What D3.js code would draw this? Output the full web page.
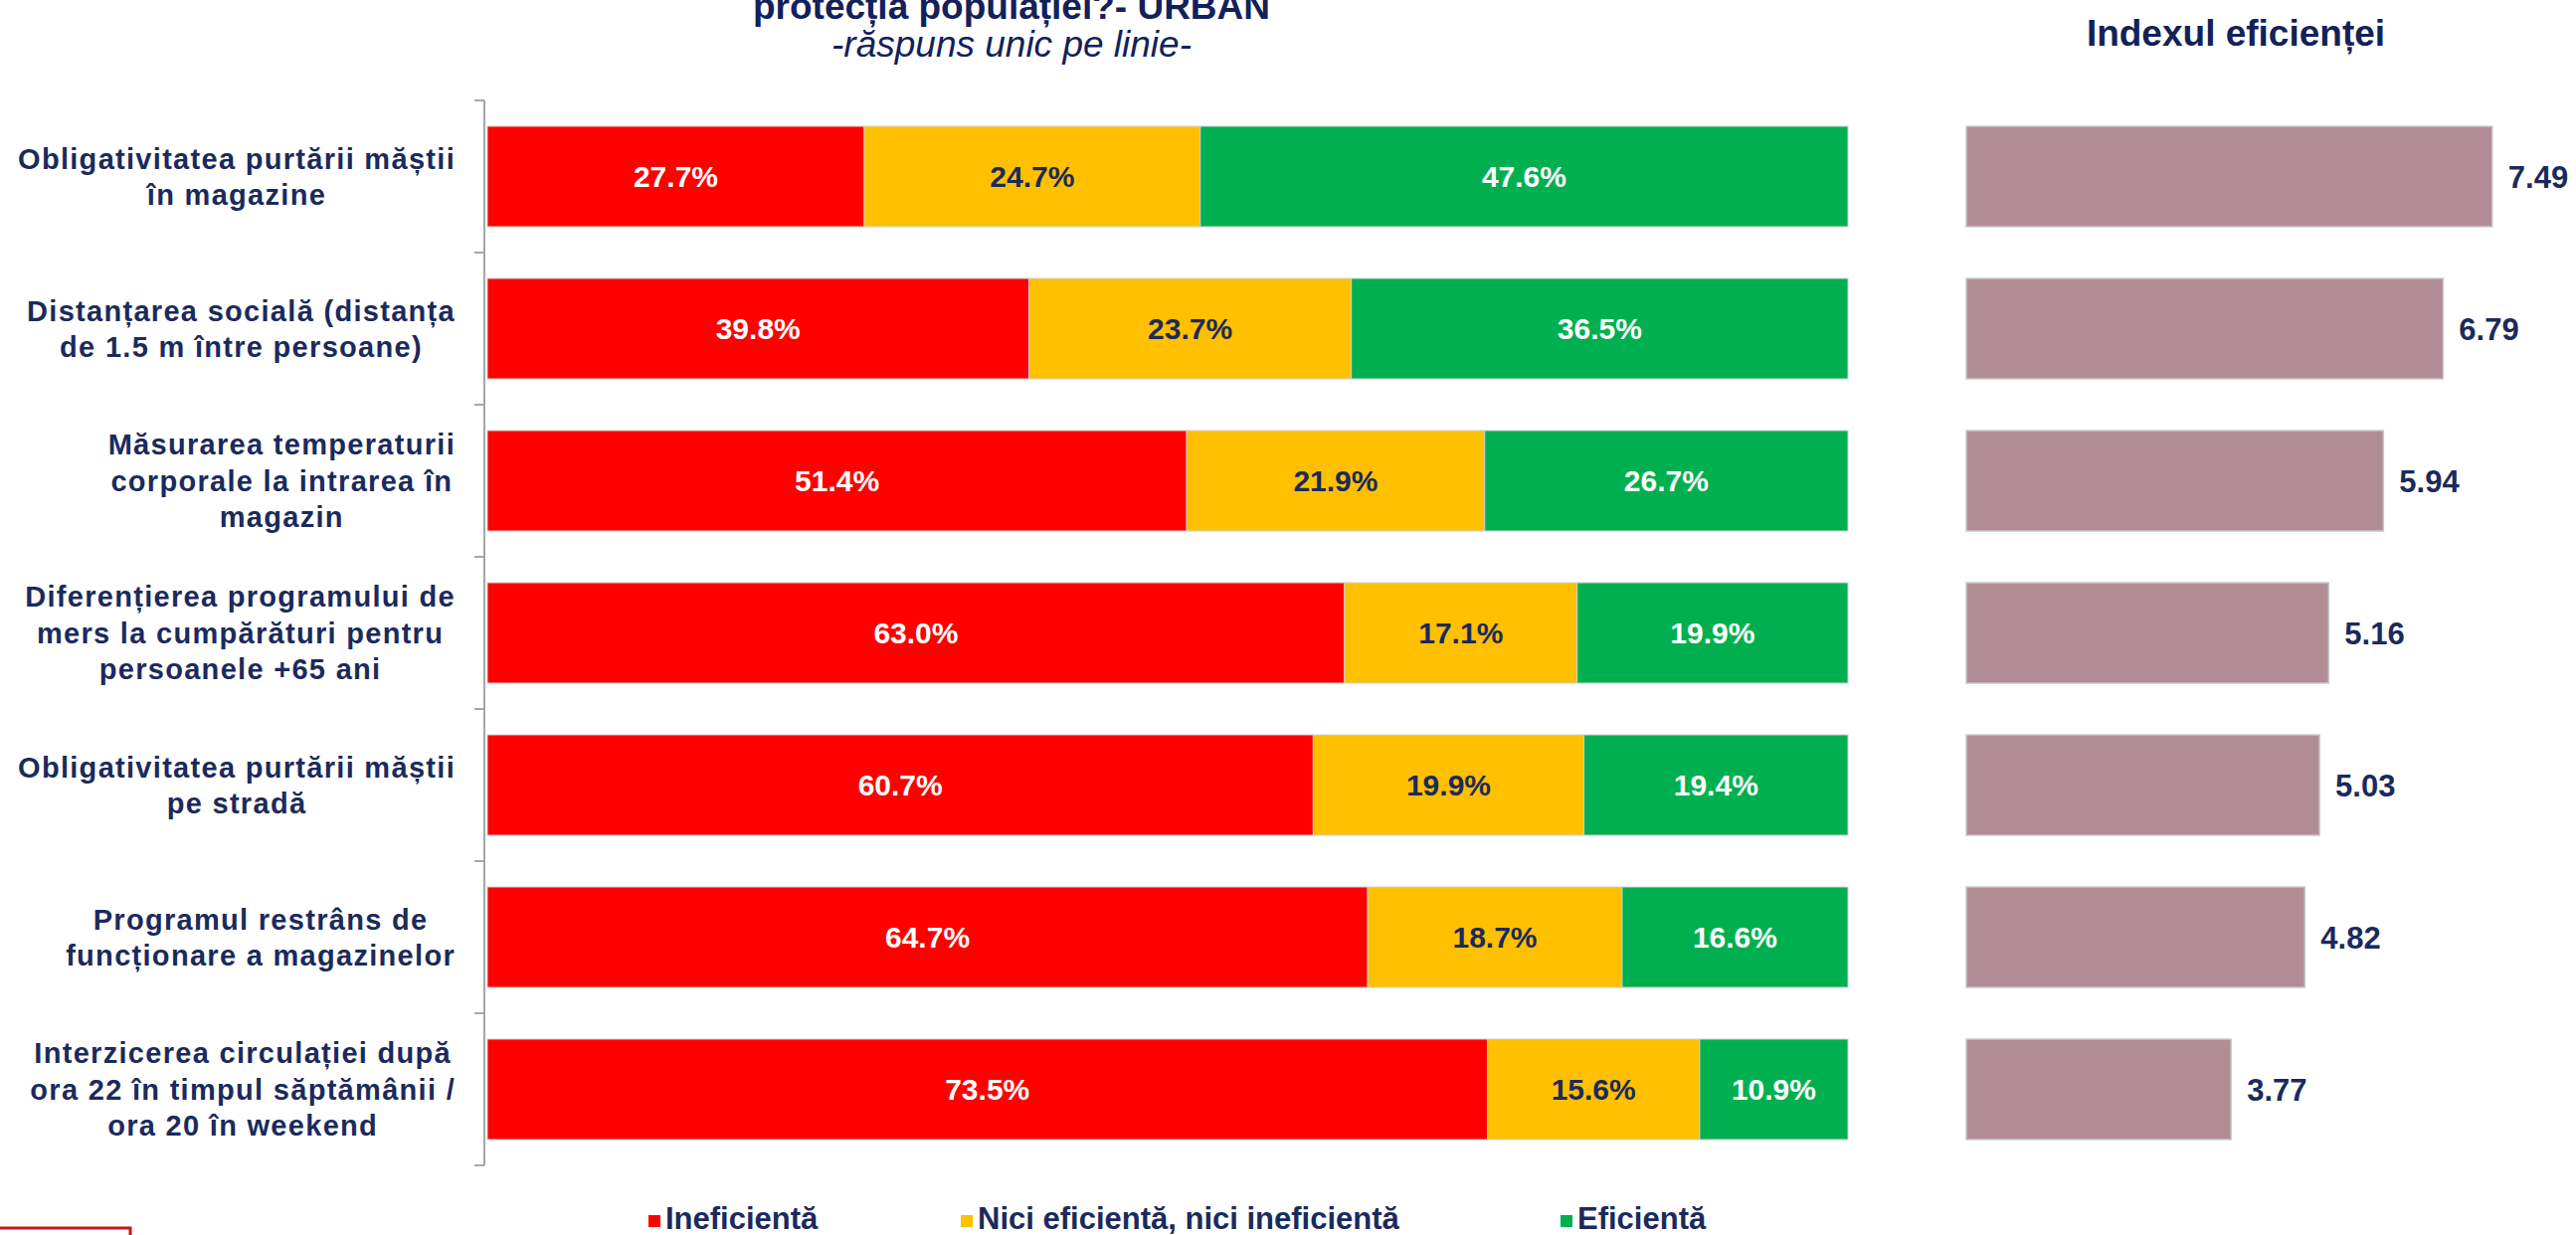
<!DOCTYPE html>
<html>
<head>
<meta charset="utf-8">
<script src="https://cdn.jsdelivr.net/npm/d3@7"></script>
<style>
  html, body { margin: 0; padding: 0; background: #ffffff; }
  svg { display: block; }
  text { font-family: "Liberation Sans", Arial, sans-serif; }
</style>
</head>
<body>
<script>
// ---------- DATA ----------
const categories = [
  ["Obligativitatea purtării măștii", "în magazine"],
  ["Distanțarea socială (distanța", "de 1.5 m între persoane)"],
  ["Măsurarea temperaturii", "corporale la intrarea în", "magazin"],
  ["Diferențierea programului de", "mers la cumpărături pentru", "persoanele +65 ani"],
  ["Obligativitatea purtării măștii", "pe stradă"],
  ["Programul restrâns de", "funcționare a magazinelor"],
  ["Interzicerea circulației după", "ora 22 în timpul săptămânii /", "ora 20 în weekend"]
];
const seriesNames = ["Ineficientă", "Nici eficientă, nici ineficientă", "Eficientă"];
const ineficienta = [27.7, 39.8, 51.4, 63.0, 60.7, 64.7, 73.5];
const nici = [24.7, 23.7, 21.9, 17.1, 19.9, 18.7, 15.6];
const eficienta = [47.6, 36.5, 26.7, 19.9, 19.4, 16.6, 10.9];
const indexEficienta = [7.49, 6.79, 5.94, 5.16, 5.03, 4.82, 3.77];
const titleLine = "protecția populației?- URBAN";
const subtitle = "-răspuns unic pe linie-";
const indexTitle = "Indexul eficienței";

// ---------- STYLE ----------
const W = 2590, H = 1242;
const colors = ["#FF0000", "#FFC000", "#00B050"];
const labelColors = ["#FFFFFF", "#1B2A5C", "#FFFFFF"];
const navy = "#1B2A5C";
const titleNavy = "#13215A";
const indexFill = "#B28C94";

const svg = d3.select("body").append("svg").attr("width", W).attr("height", H);

const idx = d3.range(categories.length);
const y = d3.scaleBand().domain(idx).range([101, 1172]).paddingInner(0.34).paddingOuter(0.17);
const x = d3.scaleLinear().domain([0, 100]).range([490, 1858]);
const x2 = d3.scaleLinear().domain([0, 10]).range([1977, 2683]);

// stacked data
const rows = idx.map(i => ({ i, a: ineficienta[i], b: nici[i], c: eficienta[i] }));
const stack = d3.stack().keys(["a", "b", "c"]);
const stacked = stack(rows);

// ---------- TITLES ----------
svg.append("text").attr("x", 1017).attr("y", 19).attr("text-anchor", "middle")
  .attr("font-size", 37).attr("font-weight", "bold").attr("fill", titleNavy).text(titleLine);
svg.append("text").attr("x", 1017).attr("y", 57).attr("text-anchor", "middle")
  .attr("font-size", 37).attr("font-style", "italic").attr("fill", titleNavy).text(subtitle);
svg.append("text").attr("x", 2248).attr("y", 46).attr("text-anchor", "middle")
  .attr("font-size", 37).attr("font-weight", "bold").attr("fill", titleNavy).text(indexTitle);

// ---------- STACKED BARS ----------
const layers = svg.append("g").selectAll("g").data(stacked).join("g")
  .attr("fill", (d, k) => colors[k]);
layers.selectAll("rect").data(d => d).join("rect")
  .attr("x", d => x(d[0]))
  .attr("y", d => y(d.data.i))
  .attr("width", d => x(d[1]) - x(d[0]))
  .attr("height", y.bandwidth())
  .attr("stroke", "#D0D0D0").attr("stroke-width", 1);

// segment labels
svg.append("g").selectAll("g").data(stacked).join("g")
  .attr("fill", (d, k) => labelColors[k])
  .selectAll("text").data(d => d).join("text")
  .attr("x", d => (x(d[0]) + x(d[1])) / 2)
  .attr("y", d => y(d.data.i) + y.bandwidth() / 2)
  .attr("dy", "0.36em")
  .attr("text-anchor", "middle")
  .attr("font-size", 30).attr("font-weight", "bold")
  .text(d => (d[1] - d[0]).toFixed(1) + "%");

// ---------- Y AXIS (line + boundary ticks) ----------
const axisG = svg.append("g");
axisG.append("line").attr("x1", 487).attr("x2", 487)
  .attr("y1", y.range()[0]).attr("y2", y.range()[1])
  .attr("stroke", "#A6A6A6").attr("stroke-width", 2);
const boundaries = idx.map(i => y(i) - y.step() * y.paddingInner() / 2);
boundaries[0] = y.range()[0];
boundaries.push(y.range()[1]);
axisG.selectAll("line.tick").data(boundaries).join("line").attr("class", "tick")
  .attr("x1", 477).attr("x2", 487).attr("y1", d => d).attr("y2", d => d)
  .attr("stroke", "#A6A6A6").attr("stroke-width", 2);

// ---------- CATEGORY LABELS ----------
const lineH = 36.5;
const rightEdge = 458;
const labG = svg.append("g");
categories.forEach((lines, i) => {
  const g = labG.append("g");
  const cy = y(i) + y.bandwidth() / 2;
  const n = lines.length;
  const texts = lines.map((ln, j) => g.append("text")
    .attr("y", cy + (j - (n - 1) / 2) * lineH)
    .attr("dy", "0.36em")
    .attr("text-anchor", "middle")
    .attr("font-size", 29).attr("font-weight", "bold")
    .attr("letter-spacing", 1.3)
    .attr("fill", navy).text(ln));
  const maxW = d3.max(texts, t => t.node().getComputedTextLength());
  texts.forEach(t => t.attr("x", rightEdge - maxW / 2));
});

// ---------- INDEX BARS ----------
svg.append("g").selectAll("rect").data(idx).join("rect")
  .attr("x", x2(0))
  .attr("y", i => y(i))
  .attr("width", i => x2(indexEficienta[i]) - x2(0))
  .attr("height", y.bandwidth())
  .attr("fill", indexFill)
  .attr("stroke", "#C8C8C8").attr("stroke-width", 1.5);
svg.append("g").selectAll("text").data(idx).join("text")
  .attr("x", i => x2(indexEficienta[i]) + 16)
  .attr("y", i => y(i) + y.bandwidth() / 2)
  .attr("dy", "0.36em")
  .attr("font-size", 31).attr("font-weight", "bold")
  .attr("fill", navy)
  .text(i => indexEficienta[i].toFixed(2));

// ---------- LEGEND ----------
const legendX = [652, 966, 1569];
const leg = svg.append("g").selectAll("g").data(seriesNames).join("g")
  .attr("transform", (d, k) => `translate(${legendX[k]},0)`);
leg.append("rect").attr("x", 0).attr("y", 1222).attr("width", 12).attr("height", 12)
  .attr("fill", (d, k) => colors[k]);
leg.append("text").attr("x", 17).attr("y", 1236)
  .attr("font-size", 31).attr("font-weight", "bold").attr("fill", navy)
  .text(d => d);

// ---------- bottom-left red frame ----------
svg.append("rect").attr("x", -5).attr("y", 1235).attr("width", 136).attr("height", 20)
  .attr("fill", "none").attr("stroke", "#C8161D").attr("stroke-width", 3);
</script>
</body>
</html>
